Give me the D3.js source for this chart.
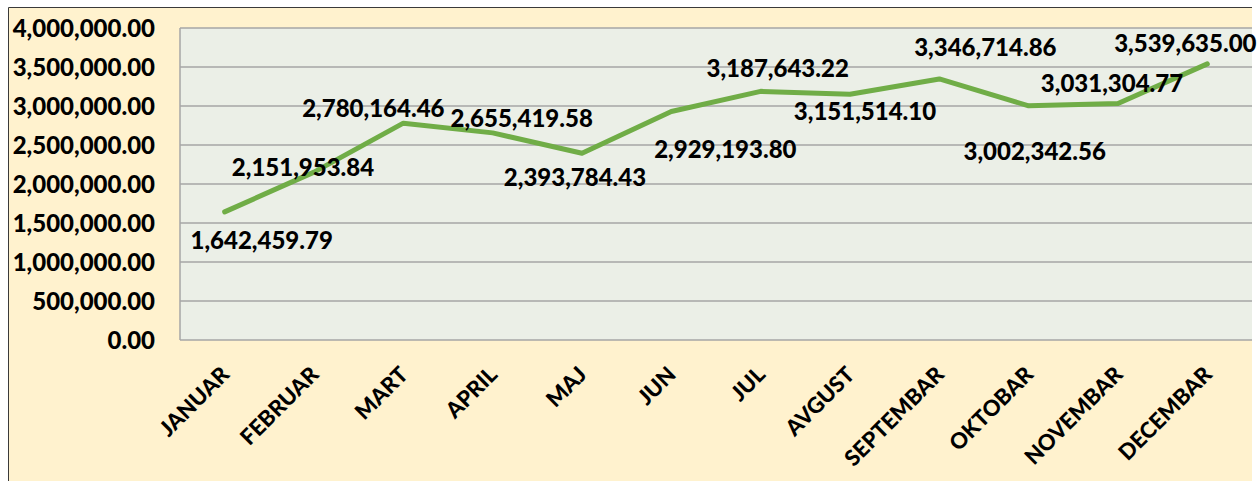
<!DOCTYPE html>
<html>
<head>
<meta charset="utf-8">
<script src="https://cdn.jsdelivr.net/npm/d3@7"></script>
<style>
  html, body { margin: 0; padding: 0; background: #fff; }
  svg { display: block; }
  text { font-family: Lato, "Open Sans", sans-serif; font-weight: 900; fill: #000; }
</style>
</head>
<body>
<script>
// meseci i vrijednosti
const months = ['JANUAR', 'FEBRUAR', 'MART', 'APRIL', 'MAJ', 'JUN', 'JUL', 'AVGUST',
  'SEPTEMBAR', 'OKTOBAR', 'NOVEMBAR', 'DECEMBAR'];
const values = [1642459.79, 2151953.84, 2780164.46, 2655419.58, 2393784.43, 2929193.80,
  3187643.22, 3151514.10, 3346714.86, 3002342.56, 3031304.77, 3539635.00];
const yTicks = [0, 500000, 1000000, 1500000, 2000000, 2500000, 3000000, 3500000, 4000000];
// pomak natpisa (dx, dy) u odnosu na tacku
const labelOffsets = [[37, 29], [-11, -5], [-30, -15], [29, -14], [-7, 24], [54, 38],
  [17, -23], [15, 17], [46, -31], [6, 46], [-6, -20], [-22, -20]];

const W = 1259, H = 481;
const plot = { left: 180, top: 28, right: 1252, bottom: 340 };

const svg = d3.select('body').append('svg')
  .attr('width', W)
  .attr('height', H);

// pozadina grafikona
svg.append('rect')
  .attr('x', 8.5).attr('y', 7.5)
  .attr('width', 1243.5).attr('height', H)
  .attr('fill', '#FFF2CE');
svg.append('path')
  .attr('d', `M8.5,${H}V7.5H1252`)
  .attr('fill', 'none')
  .attr('stroke', '#3a3a3a')
  .attr('stroke-width', 1);

const x = d3.scalePoint()
  .domain(months)
  .range([plot.left, plot.right])
  .padding(0.5);

const y = d3.scaleLinear()
  .domain([0, 4000000])
  .range([plot.bottom, plot.top]);

// podrucje crtanja
svg.append('rect')
  .attr('x', plot.left).attr('y', plot.top)
  .attr('width', plot.right - plot.left)
  .attr('height', plot.bottom - plot.top)
  .attr('fill', '#EBEFE7');

// mreza
svg.append('g')
  .selectAll('line')
  .data(yTicks)
  .join('line')
  .attr('x1', plot.left).attr('x2', plot.right)
  .attr('y1', d => y(d)).attr('y2', d => y(d))
  .attr('stroke', '#A6A6A6')
  .attr('stroke-width', 1.5);

svg.append('line')
  .attr('x1', plot.left).attr('x2', plot.left)
  .attr('y1', plot.top).attr('y2', plot.bottom)
  .attr('stroke', '#A6A6A6')
  .attr('stroke-width', 1.5);

// y osa
const fmt = d3.format(',.2f');
const yAxis = d3.axisLeft(y)
  .tickValues(yTicks)
  .tickFormat(fmt)
  .tickSize(0)
  .tickPadding(25);

svg.append('g')
  .attr('transform', `translate(${plot.left},0)`)
  .call(yAxis)
  .call(g => g.select('.domain').remove())
  .selectAll('text')
  .style('font-size', '24px')
  .attr('dy', '0.35em');

// x osa - kosi natpisi
svg.append('g')
  .selectAll('text')
  .data(months)
  .join('text')
  .attr('transform', d => `translate(${x(d) + 6},376) rotate(-45)`)
  .attr('text-anchor', 'end')
  .style('font-size', '22px')
  .text(d => d);

// linija
const line = d3.line()
  .x((d, i) => x(months[i]))
  .y(d => y(d));

svg.append('path')
  .datum(values)
  .attr('d', line)
  .attr('fill', 'none')
  .attr('stroke', '#70AD47')
  .attr('stroke-width', 5)
  .attr('stroke-linejoin', 'round')
  .attr('stroke-linecap', 'round');

// natpisi vrijednosti
svg.append('g')
  .selectAll('text')
  .data(values)
  .join('text')
  .attr('x', (d, i) => x(months[i]) + labelOffsets[i][0])
  .attr('y', (d, i) => y(d) + labelOffsets[i][1])
  .attr('dy', '0.35em')
  .attr('text-anchor', 'middle')
  .style('font-size', '24px')
  .text(d => fmt(d));
</script>
</body>
</html>
